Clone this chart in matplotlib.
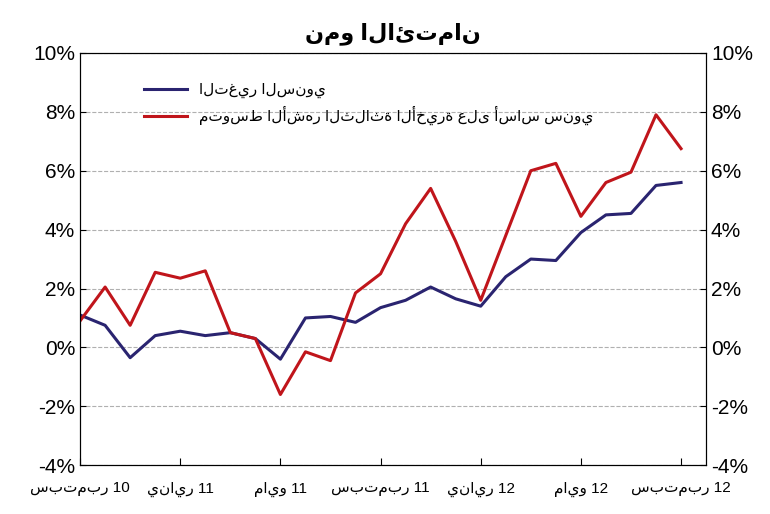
import matplotlib
matplotlib.use("Agg")
import matplotlib.pyplot as plt
from matplotlib.ticker import FuncFormatter

# monthly, Sep 2010 .. Sep 2012
annual = [1.1, 0.75, -0.35, 0.4, 0.55, 0.4, 0.5, 0.3, -0.4, 1.0, 1.05, 0.85, 1.35,
          1.6, 2.05, 1.65, 1.4, 2.4, 3.0, 2.95, 3.9, 4.5, 4.55, 5.5, 5.6]
avg3m = [0.9, 2.05, 0.75, 2.55, 2.35, 2.6, 0.5, 0.3, -1.6, -0.15, -0.45, 1.85, 2.5,
         4.2, 5.4, 3.6, 1.6, 3.8, 6.0, 6.25, 4.45, 5.6, 5.95, 7.9, 6.75]
tick_pos = [0, 4, 8, 12, 16, 20, 24]
tick_labels = ["سبتمبر 10", "يناير 11", "مايو 11", "سبتمبر 11", "يناير 12", "مايو 12", "سبتمبر 12"]
series_names = ["التغير السنوي", "متوسط الأشهر الثلاثة الأخيرة على أساس سنوي"]
title = "نمو الائتمان"

plt.rcParams["font.family"] = ["Liberation Sans", "DejaVu Sans"]
fig = plt.figure(figsize=(7.7, 5.14), dpi=100)
ax = fig.add_axes([0.104, 0.095, 0.813, 0.802])

x = list(range(len(annual)))
ax.plot(x, annual, color="#2a2470", lw=2.2, label=series_names[0])
ax.plot(x, avg3m, color="#c0151b", lw=2.2, label=series_names[1])

ax.set_xlim(0, 25)
ax.set_ylim(-4, 10)
ax.set_yticks(range(-4, 11, 2))
pct = FuncFormatter(lambda v, p: f"{v:.0f}%")
ax.yaxis.set_major_formatter(pct)
ax.grid(axis="y", color="#b0b0b0", ls="--", lw=0.8)
ax.set_xticks(tick_pos)
ax.set_xticklabels(tick_labels, fontsize=11)
ax.tick_params(axis="x", direction="in", length=5, pad=12)
ax.tick_params(axis="y", labelsize=15, direction="in", length=4)

ax2 = ax.twinx()
ax2.set_ylim(-4, 10)
ax2.set_yticks(range(-4, 11, 2))
ax2.yaxis.set_major_formatter(pct)
ax2.tick_params(axis="y", labelsize=15, direction="in", length=4)

ax.set_title(title, fontsize=16, fontweight="bold", pad=10)
ax.legend(loc="upper left", bbox_to_anchor=(0.08, 0.96), frameon=False,
          fontsize=11, handlelength=2.8)

fig.savefig("out.png", dpi=100)
